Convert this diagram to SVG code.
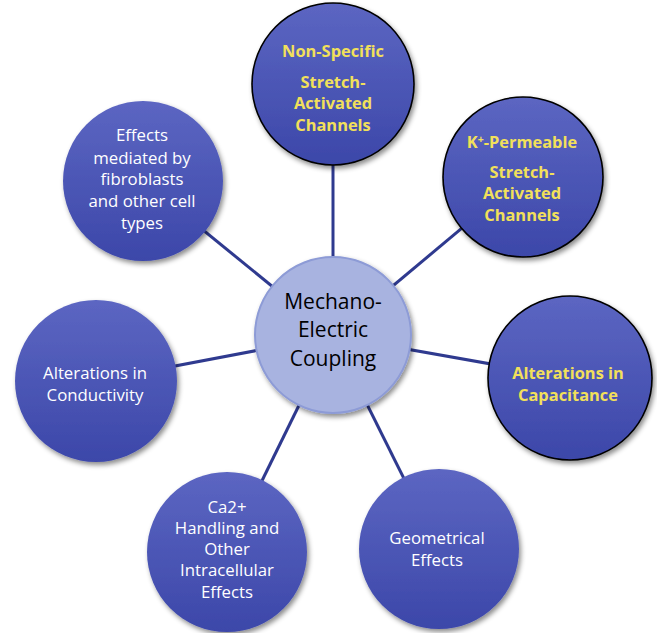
<svg xmlns="http://www.w3.org/2000/svg" width="657" height="633" viewBox="0 0 657 633">
<defs>
<linearGradient id="g" x1="0" y1="0" x2="0" y2="1">
<stop offset="0" stop-color="#5c66c2"/>
<stop offset="1" stop-color="#3c47a9"/>
</linearGradient>
<filter id="sh" x="-20%" y="-20%" width="150%" height="150%">
<feDropShadow dx="2" dy="3" stdDeviation="2.5" flood-color="#000" flood-opacity="0.45"/>
</filter>
</defs>
<style>
.conn line{stroke:#2f3a8f;stroke-width:3}
.node{fill:url(#g);filter:url(#sh)}
.hl{stroke:#000;stroke-width:1.6}
.center{fill:#a8b3e0;stroke:#8d9bd6;stroke-width:2;filter:url(#sh)}
text{text-anchor:middle;font-family:"Open Sans","Noto Sans",sans-serif}
.w{fill:#fff;font-size:16.8px}
.y{fill:#f2e05a;font-size:16.4px;font-weight:bold}
.c{fill:#000;font-size:21px}
</style>
<rect width="657" height="633" fill="#fff"/>
<g id="connectors" class="conn">
<line x1="333" y1="336" x2="333" y2="84"/>
<line x1="333" y1="336" x2="523" y2="177"/>
<line x1="333" y1="336" x2="570" y2="378"/>
<line x1="333" y1="336" x2="439" y2="549"/>
<line x1="333" y1="336" x2="227" y2="552"/>
<line x1="333" y1="336" x2="96" y2="381"/>
<line x1="333" y1="336" x2="143" y2="181"/>
</g>
<g id="n-nonspecific">
<circle class="node hl" cx="333" cy="84" r="81"/>
<text class="y" x="333" y="57">Non-Specific</text>
<text class="y" x="333" y="88">Stretch-</text>
<text class="y" x="333" y="109">Activated</text>
<text class="y" x="333" y="131">Channels</text>
</g>
<g id="n-kperm">
<circle class="node hl" cx="523" cy="177" r="80"/>
<text class="y" x="522" y="148">K<tspan dy="-5" font-size="10.5px">+</tspan><tspan dy="5">-Permeable</tspan></text>
<text class="y" x="522" y="178">Stretch-</text>
<text class="y" x="522" y="199">Activated</text>
<text class="y" x="522" y="221">Channels</text>
</g>
<g id="n-capacitance">
<circle class="node hl" cx="570" cy="378" r="82"/>
<text class="y" x="568" y="379">Alterations in</text>
<text class="y" x="568" y="401">Capacitance</text>
</g>
<g id="n-geometrical">
<circle class="node" cx="439" cy="549" r="80"/>
<text class="w" x="437" y="544">Geometrical</text>
<text class="w" x="437" y="566">Effects</text>
</g>
<g id="n-ca">
<circle class="node" cx="227" cy="552" r="80"/>
<text class="w" x="227" y="513">Ca2+</text>
<text class="w" x="227" y="534">Handling and</text>
<text class="w" x="227" y="555">Other</text>
<text class="w" x="227" y="576">Intracellular</text>
<text class="w" x="227" y="598">Effects</text>
</g>
<g id="n-conductivity">
<circle class="node" cx="96" cy="381" r="81"/>
<text class="w" x="95" y="379">Alterations in</text>
<text class="w" x="95" y="401">Conductivity</text>
</g>
<g id="n-fibroblasts">
<circle class="node" cx="143" cy="181" r="80"/>
<text class="w" x="142" y="141">Effects</text>
<text class="w" x="142" y="164">mediated by</text>
<text class="w" x="142" y="185">fibroblasts</text>
<text class="w" x="142" y="207">and other cell</text>
<text class="w" x="142" y="229">types</text>
</g>
<g id="n-center">
<circle class="center" cx="333" cy="335" r="78"/>
<text class="c" x="333" y="309">Mechano-</text>
<text class="c" x="333" y="337">Electric</text>
<text class="c" x="333" y="366">Coupling</text>
</g>
</svg>
